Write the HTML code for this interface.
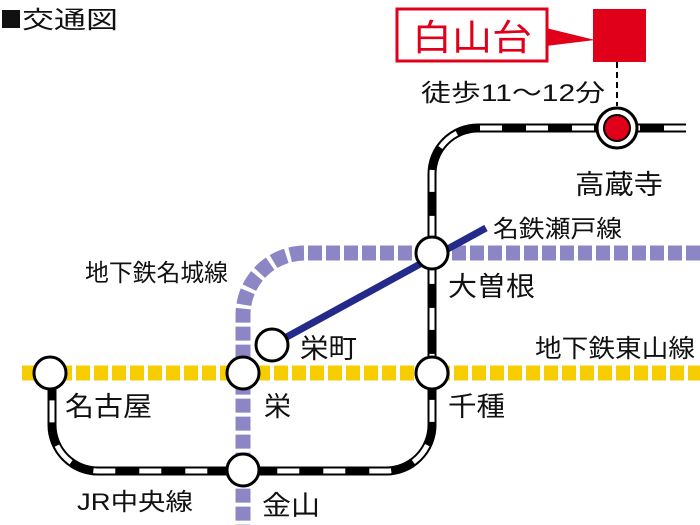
<!DOCTYPE html>
<html><head><meta charset="utf-8"><style>
html,body{margin:0;padding:0;background:#fff;}
svg{display:block;}
text{font-family:"Liberation Sans","Noto Sans CJK JP",sans-serif;fill:#111;font-weight:normal;}
</style></head><body>
<svg width="700" height="525" viewBox="0 0 700 525" xmlns="http://www.w3.org/2000/svg">
<line x1="22" y1="373" x2="700" y2="373" stroke="#f5cd00" stroke-width="15" stroke-dasharray="14 4"/>
<path d="M700 253 H305 A62 62 0 0 0 243 315 V525" fill="none" stroke="#8c86c4" stroke-width="15" stroke-dasharray="14 4"/>
<line x1="272" y1="345" x2="486" y2="228" stroke="#242a8a" stroke-width="7"/>
<path d="M686 128 H478 A46 46 0 0 0 432 174 V425 A46 46 0 0 1 386 471 H98 A46 46 0 0 1 52 425 V373" fill="none" stroke="#000" stroke-width="9"/>
<path d="M686 128 H478 A46 46 0 0 0 432 174 V425 A46 46 0 0 1 386 471 H98 A46 46 0 0 1 52 425 V373" fill="none" stroke="#fff" stroke-width="5" stroke-dasharray="22 24"/>
<g fill="#fff" stroke="#000" stroke-width="3">
<circle cx="617" cy="128" r="20"/>
<circle cx="432" cy="253" r="16"/>
<circle cx="432" cy="373" r="16"/>
<circle cx="243" cy="373" r="16"/>
<circle cx="50" cy="373" r="16"/>
<circle cx="243" cy="470" r="16"/>
<circle cx="272" cy="345" r="16"/>
</g>
<circle cx="617" cy="128" r="13" fill="#e0001a" stroke="#000" stroke-width="2"/>
<line x1="617" y1="62" x2="617" y2="106" stroke="#000" stroke-width="2" stroke-dasharray="6 4"/>
<rect x="593" y="9" width="53" height="53" fill="#e0001a"/>
<polygon points="546,28 595,40 546,46" fill="#e0001a"/>
<rect x="397" y="9" width="150" height="52" fill="#fff" stroke="#e0001a" stroke-width="3"/>
<text x="412" y="50" font-size="36" textLength="120" lengthAdjust="spacingAndGlyphs" style="fill:#e0001a">白山台</text>
<rect x="2" y="10" width="18" height="18" fill="#111"/>
<text x="22" y="28" font-size="24" textLength="96" lengthAdjust="spacingAndGlyphs">交通図</text>
<text x="421" y="101" font-size="24" textLength="184" lengthAdjust="spacingAndGlyphs">徒歩11～12分</text>
<text x="575" y="194" font-size="27" textLength="88" lengthAdjust="spacingAndGlyphs">高蔵寺</text>
<text x="493" y="237" font-size="24" textLength="129" lengthAdjust="spacingAndGlyphs">名鉄瀬戸線</text>
<text x="85" y="281" font-size="24" textLength="143" lengthAdjust="spacingAndGlyphs">地下鉄名城線</text>
<text x="448" y="296" font-size="27" textLength="87" lengthAdjust="spacingAndGlyphs">大曽根</text>
<text x="300" y="358" font-size="27" textLength="57" lengthAdjust="spacingAndGlyphs">栄町</text>
<text x="535" y="357" font-size="25" textLength="160" lengthAdjust="spacingAndGlyphs">地下鉄東山線</text>
<text x="65" y="416" font-size="27" textLength="87" lengthAdjust="spacingAndGlyphs">名古屋</text>
<text x="264" y="416" font-size="27">栄</text>
<text x="448" y="416" font-size="27" textLength="57" lengthAdjust="spacingAndGlyphs">千種</text>
<text x="77" y="510" font-size="24" textLength="116" lengthAdjust="spacingAndGlyphs">JR中央線</text>
<text x="262" y="515" font-size="27" textLength="58" lengthAdjust="spacingAndGlyphs">金山</text>
</svg>
</body></html>
